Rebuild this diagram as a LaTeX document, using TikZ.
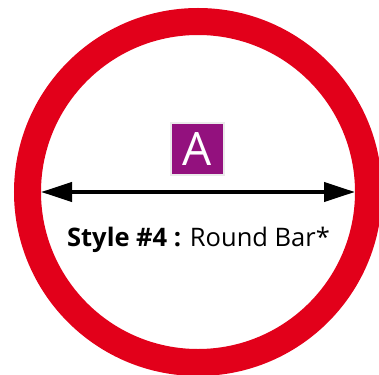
\documentclass[tikz,border=0pt]{standalone}
\usepackage{fontspec}
\setmainfont{Open Sans}
\usetikzlibrary{arrows.meta}
\definecolor{ringred}{HTML}{E2001A}
\definecolor{badgepurple}{HTML}{93117E}
\begin{document}
\begin{tikzpicture}[x=1pt, y=-1pt]
\tikzstyle{ring}=[draw=ringred, line width=27pt]
\tikzstyle{badge}=[fill=badgepurple, draw=black!8, line width=1.5pt,
                   text=white, minimum width=53pt, minimum height=52pt,
                   inner sep=0pt, font=\fontsize{46}{46}\selectfont]
\tikzstyle{dim}=[line width=4pt,
                 {Triangle[length=31pt,width=19pt]}-{Triangle[length=31pt,width=19pt]}]
\useasboundingbox (0,0) rectangle (379,374);
\path (198,192) coordinate (O);
\draw[ring] (O) circle (170.5pt);
\node[badge] (A) at (197.5,149) {A};
\coordinate (L) at (41,192);
\coordinate (R) at (355,192);
\draw[dim] (L) -- (R);
\node[anchor=base, inner sep=0pt] (cap) at (198.5,246)
  {\fontsize{25.5}{25.5}\selectfont\textbf{Style \#4 :} Round Bar*};
\end{tikzpicture}
\end{document}
